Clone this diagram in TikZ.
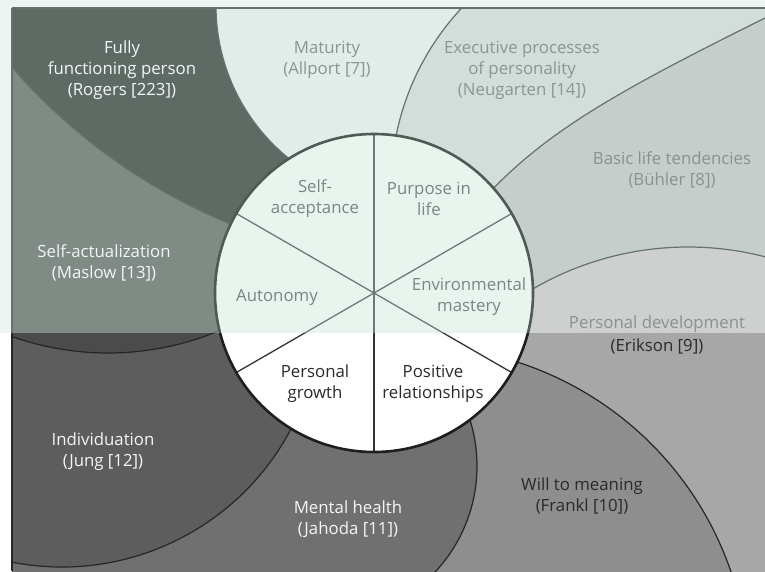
\documentclass[tikz,border=0pt]{standalone}
\usepackage{fontspec}
\setmainfont{Open Sans}
\usetikzlibrary{calc}
\definecolor{RogersT}{HTML}{5E6B65}
\definecolor{RogersB}{HTML}{3A3A3A}
\definecolor{MaslowT}{HTML}{808B86}
\definecolor{MaslowB}{HTML}{4B4B4B}
\definecolor{MaturityT}{HTML}{E2ECE8}
\definecolor{MaturityB}{HTML}{F0F0F0}
\definecolor{ExecT}{HTML}{D3DEDA}
\definecolor{ExecB}{HTML}{D8D8D8}
\definecolor{BuhlerT}{HTML}{C5CECB}
\definecolor{BuhlerB}{HTML}{BBBBBB}
\definecolor{EriksonT}{HTML}{CDD0CF}
\definecolor{EriksonB}{HTML}{A7A7A7}
\definecolor{FranklT}{HTML}{C0C4C2}
\definecolor{FranklB}{HTML}{8E8E8E}
\definecolor{JahodaT}{HTML}{B0B4B2}
\definecolor{JahodaB}{HTML}{707070}
\definecolor{JungT}{HTML}{A0A4A2}
\definecolor{JungB}{HTML}{5D5D5D}
\definecolor{HubT}{HTML}{E9F4EF}
\definecolor{HubB}{HTML}{FFFFFF}
\definecolor{EdgeT}{HTML}{66716C}
\definecolor{EdgeB}{HTML}{262626}
\definecolor{RimT}{HTML}{4F5A55}
\definecolor{RimB}{HTML}{1E1E1E}
\definecolor{SpokeT}{HTML}{6F7975}
\definecolor{SpokeB}{HTML}{333333}
\definecolor{MarginT}{HTML}{EEF4F1}
\definecolor{txWhite}{HTML}{F4F6F5}
\definecolor{txGreenGray}{HTML}{8A9691}
\definecolor{txGray}{HTML}{8C908E}
\definecolor{txInner}{HTML}{7B8581}
\definecolor{txDark}{HTML}{2A2A2A}
\tikzset{
  lab/.style={align=center, inner sep=0pt, font=\fontsize{16.8}{21}\selectfont},
  edgeline/.style={line width=1.2pt},
}
\begin{document}
\begin{tikzpicture}[x=1pt,y=-1pt]
\useasboundingbox (0,0) rectangle (765,571);
\fill[MarginT] (0,0) rectangle (765,333);
\fill[white] (0,333) rectangle (765,571);
\coordinate (ctr) at (374,293);
\coordinate (cA) at (412,6);
\coordinate (cB) at (453,-317);
\coordinate (cC) at (653,187);
\coordinate (cE) at (688,555);
\coordinate (cF) at (415,680);
\coordinate (cG) at (322,466);
\coordinate (cH) at (62,308);
\coordinate (cI) at (108,65);
\foreach \hh/\ya/\yb in {T/8/333,B/333/620}{
\begin{scope}
\clip (12,\ya) rectangle (800,\yb);
% Rogers
\fill[fill=Rogers\hh] (ctr) -- ($(cB)+(111:585)$) arc[start angle=111,end angle=141,radius=585]
  -- (-30,-30) -- ($(cA)+(185:196)$) arc[start angle=185,end angle=125,radius=196] -- cycle;
% Maturity
\fill[fill=Maturity\hh] (ctr) -- ($(cA)+(125:196)$) arc[start angle=125,end angle=185,radius=196]
  -- ($(cC)+(230:262)$) arc[start angle=230,end angle=188,radius=262] -- cycle;
% Executive
\fill[fill=Exec\hh] (ctr) -- ($(cC)+(188:262)$) arc[start angle=188,end angle=230,radius=262]
  -- (830,-15) -- (765,18) .. controls (610,95) and (540,135) .. (478,205) -- cycle;
% Buhler
\fill[fill=Buhler\hh] (ctr) -- (478,205) .. controls (540,135) and (610,95) .. (765,18) -- (830,-15)
  -- (850,280) -- ($(cE)+(295:308)$) arc[start angle=295,end angle=237,radius=308] -- cycle;
% Erikson
\fill[fill=Erikson\hh] (ctr) -- ($(cE)+(237:308)$) arc[start angle=237,end angle=295,radius=308]
  -- (850,650) -- ($(cF)+(350:334)$) arc[start angle=350,end angle=285,radius=334] -- cycle;
% Frankl
\fill[fill=Frankl\hh] (ctr) -- ($(cF)+(285:334)$) arc[start angle=285,end angle=350,radius=334]
  -- ($(cG)+(50:155)$) arc[start angle=50,end angle=-22,radius=155] -- cycle;
% Jahoda
\fill[fill=Jahoda\hh] (ctr) -- ($(cG)+(-22:155)$) arc[start angle=-22,end angle=50,radius=155]
  -- (-40,620) -- ($(cH)+(105:259)$) arc[start angle=105,end angle=25,radius=259] -- cycle;
% Jung
\fill[fill=Jung\hh] (ctr) -- ($(cH)+(25:259)$) arc[start angle=25,end angle=105,radius=259]
  -- ($(cI)+(115:288)$) arc[start angle=115,end angle=65,radius=288] -- cycle;
% Maslow
\fill[fill=Maslow\hh] (ctr) -- ($(cI)+(65:288)$) arc[start angle=65,end angle=115,radius=288]
  -- ($(cB)+(141:585)$) arc[start angle=141,end angle=111,radius=585] -- cycle;
% edges
\begin{scope}[edgeline, draw=Edge\hh]
\draw ($(cA)+(125:196)$) arc[start angle=125,end angle=185,radius=196];
\draw ($(cB)+(111:585)$) arc[start angle=111,end angle=141,radius=585];
\draw ($(cC)+(188:262)$) arc[start angle=188,end angle=230,radius=262];
\draw (478,205) .. controls (540,135) and (610,95) .. (765,18) -- (830,-15);
\draw ($(cE)+(237:308)$) arc[start angle=237,end angle=295,radius=308];
\draw ($(cF)+(285:334)$) arc[start angle=285,end angle=350,radius=334];
\draw ($(cG)+(-22:155)$) arc[start angle=-22,end angle=50,radius=155];
\draw ($(cH)+(25:259)$) arc[start angle=25,end angle=105,radius=259];
\draw ($(cI)+(65:288)$) arc[start angle=65,end angle=115,radius=288];
\end{scope}
% hub
\fill[fill=Hub\hh] (ctr) circle (159);
\foreach \a in {30,90,150}{
  \draw[draw=Spoke\hh, line width=1.3pt] ($(ctr)+(\a:159)$) -- ($(ctr)+(\a+180:159)$);
}
\draw[draw=Rim\hh, line width=2.6pt] (ctr) circle (159);
\end{scope}
}
% frame
\draw[EdgeT, line width=1.1pt] (12,8) -- (765,8);
\draw[EdgeT, line width=1.1pt] (12,8) -- (12,333);
\draw[EdgeB, line width=1.1pt] (12,333) -- (12,571);
% outer labels
\node[lab, text=txWhite] (rogers) at (122,70) {Fully\\functioning person\\(Rogers [223])};
\node[lab, text=txGreenGray] (allport) at (327,60) {Maturity\\(Allport [7])};
\node[lab, text=txGreenGray] (neugarten) at (522,70) {Executive processes\\of personality\\(Neugarten [14])};
\node[lab, text=txGray] (buhler) at (672,170) {Basic life tendencies\\(Bühler [8])};
\node[lab, text=txWhite] (maslow) at (104,263) {Self-actualization\\(Maslow [13])};
\node[lab, text=txGray] (erikson1) at (657,324) {Personal development};
\node[lab, text=txDark] (erikson2) at (657,346) {(Erikson [9])};
\node[lab, text=txDark] (frankl) at (582,496) {Will to meaning\\(Frankl [10])};
\node[lab, text=txWhite] (jahoda) at (348,519) {Mental health\\(Jahoda [11])};
\node[lab, text=txWhite] (jung) at (103,452) {Individuation\\(Jung [12])};
% inner labels
\node[lab, text=txInner] (selfacc) at (315,199) {Self-\\acceptance};
\node[lab, text=txInner] (purpose) at (429,199) {Purpose in\\life};
\node[lab, text=txInner] (autonomy) at (277,297) {Autonomy};
\node[lab, text=txInner] (envmast) at (469,297) {Environmental\\mastery};
\node[lab, text=txDark] (growth) at (315,384) {Personal\\growth};
\node[lab, text=txDark] (posrel) at (433,384) {Positive\\relationships};
\end{tikzpicture}
\end{document}
